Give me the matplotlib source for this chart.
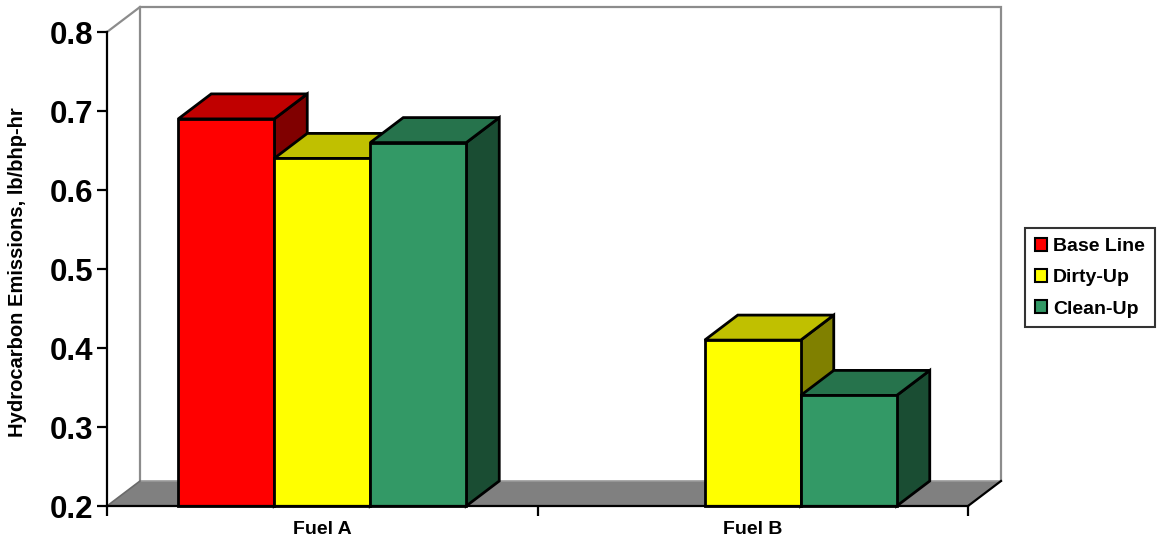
import numpy as np
import matplotlib
matplotlib.use("Agg")
import matplotlib.pyplot as plt
from matplotlib.patches import Polygon, Patch

# Data
categories = ["Fuel A", "Fuel B"]
series_names = ["Base Line", "Dirty-Up", "Clean-Up"]
base_line = [0.69, np.nan]
dirty_up = [0.64, 0.41]
clean_up = [0.66, 0.34]
y_ticks = [0.2, 0.3, 0.4, 0.5, 0.6, 0.7, 0.8]

# Styling
face_colors = ["#FF0000", "#FFFF00", "#339966"]
top_colors = ["#C00000", "#C0C000", "#26734C"]
side_colors = ["#800000", "#808000", "#1A4D33"]
FONT = "Liberation Sans"

fig = plt.figure(figsize=(11.63, 5.45), dpi=100)
ax = fig.add_axes([107 / 1163, 39 / 545, 861 / 1163, 474 / 545])
ymin, ymax = 0.2, 0.8
ax.set_xlim(0, len(categories))
ax.set_ylim(ymin, ymax)

# depth offsets for the 3-D look (data units)
dx = 33 / 430.5
dy = 25 / 790.0

# back wall and floor
wall = [(dx, ymin + dy), (dx, ymax + dy), (2 + dx, ymax + dy), (2 + dx, ymin + dy)]
ax.add_patch(Polygon(wall, closed=False, fill=False, edgecolor="#8C8C8C",
                     linewidth=1.6, clip_on=False, zorder=1))
ax.plot([0, dx], [ymax, ymax + dy], color="#8C8C8C", linewidth=1.6,
        clip_on=False, zorder=1)
floor = [(0, ymin), (2, ymin), (2 + dx, ymin + dy), (dx, ymin + dy)]
ax.add_patch(Polygon(floor, closed=True, facecolor="#808080", edgecolor="none",
                     clip_on=False, zorder=2))
ax.plot([dx, 2 + dx], [ymin + dy, ymin + dy], color="#9A9A9A", linewidth=1.2,
        clip_on=False, zorder=2)
ax.plot([0, dx], [ymin, ymin + dy], color="#6A6A6A", linewidth=1.2,
        clip_on=False, zorder=2)
ax.plot([2, 2 + dx], [ymin, ymin + dy], color="black", linewidth=1.6,
        clip_on=False, zorder=2)

# 3-D bars
series = [base_line, dirty_up, clean_up]
w = 96 / 430.5
gap = (1 - 3 * w) / 2
z = 3
for i in range(len(categories)):
    for j, vals in enumerate(series):
        v = vals[i]
        if np.isnan(v):
            continue
        x0 = i + gap + j * w
        x1 = x0 + w
        front = [(x0, ymin), (x0, v), (x1, v), (x1, ymin)]
        top = [(x0, v), (x1, v), (x1 + dx, v + dy), (x0 + dx, v + dy)]
        side = [(x1, ymin), (x1, v), (x1 + dx, v + dy), (x1 + dx, ymin + dy)]
        for poly, col in ((side, side_colors[j]), (top, top_colors[j]),
                          (front, face_colors[j])):
            ax.add_patch(Polygon(poly, closed=True, facecolor=col,
                                 edgecolor="black", linewidth=2,
                                 joinstyle="miter", clip_on=False, zorder=z))
        z += 1

# axes styling
for s in ("top", "right"):
    ax.spines[s].set_visible(False)
for s in ("left", "bottom"):
    ax.spines[s].set_linewidth(1.6)
    ax.spines[s].set_zorder(20)
ax.patch.set_visible(False)

ax.set_yticks(y_ticks)
ax.set_yticklabels([f"{t:.1f}" for t in y_ticks], fontsize=22.5,
                   fontweight="bold", family=FONT)
ax.tick_params(axis="y", direction="out", length=7, width=1.6, pad=3)

ax.set_xticks([0, 1, 2])
ax.set_xticklabels([])
ax.set_xticks([0.5, 1.5], minor=True)
ax.set_xticklabels(categories, minor=True, fontsize=14, fontweight="bold",
                   family=FONT)
ax.tick_params(axis="x", which="major", direction="out", length=7, width=1.6)
ax.tick_params(axis="x", which="minor", length=0, pad=11)

fig.text(18 / 1163, 1 - 272 / 545, "Hydrocarbon Emissions, lb/bhp-hr",
         rotation=90, ha="center", va="center", fontsize=14.5,
         fontweight="bold", family=FONT)

handles = [Patch(facecolor=c, edgecolor="black", linewidth=1.5)
           for c in face_colors]
leg = fig.legend(handles, series_names, loc="upper left",
                 bbox_to_anchor=(1025 / 1163, 1 - 228 / 545),
                 frameon=True, fancybox=False, edgecolor="black",
                 prop={"family": FONT, "weight": "bold", "size": 14},
                 handlelength=0.65, handleheight=0.65, handletextpad=0.3,
                 labelspacing=0.72, borderpad=0.5, borderaxespad=0)
leg.get_frame().set_linewidth(1.5)

fig.savefig("out.png", dpi=100)
